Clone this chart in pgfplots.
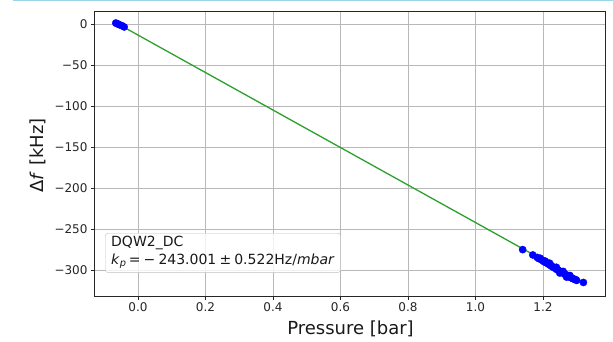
\documentclass[border=0pt]{standalone}
\usepackage{pgfplots}
\pgfplotsset{compat=1.18}
\usepackage{fontspec}
\setmainfont{DejaVu Sans}
\definecolor{fitgreen}{HTML}{2CA02C}
\definecolor{topblue}{HTML}{9AD6EA}
\definecolor{gridgray}{HTML}{B8B8B8}
\begin{document}
\begin{tikzpicture}[x=1pt,y=1pt]
\path[use as bounding box] (0,0) rectangle (613,341);
\draw[topblue, line width=1.6pt] (13,340.3) -- (613,340.3);
\begin{axis}[
  at={(94.5pt,45pt)}, anchor=south west,
  scale only axis, width=510.5pt, height=284.3pt,
  xmin=-0.129, xmax=1.384, ymin=-331, ymax=15.3,
  xtick={0,0.2,0.4,0.6,0.8,1.0,1.2},
  xticklabels={0.0,0.2,0.4,0.6,0.8,1.0,1.2},
  ytick={-300,-250,-200,-150,-100,-50,0},
  yticklabels={−300,−250,−200,−150,−100,−50,0},
  xtick pos=bottom, ytick pos=left,
  grid=major, major grid style={gridgray, line width=0.8pt},
  tick align=outside, major tick length=3.5pt,
  tick style={black!85, line width=0.8pt},
  axis line style={black!85, line width=0.8pt},
  ticklabel style={font=\fontsize{12}{14}\selectfont, text=black!85},
  xlabel={Pressure [bar]}, ylabel={Δ\textit{f} [kHz]},
  every axis x label/.style={at={(axis description cs:0.5015,-0.137)}, anchor=base,
     font=\fontsize{18}{21}\selectfont, text=black!90},
  every axis y label/.style={at={(axis description cs:-0.1003,0.494)}, anchor=base, rotate=90,
     font=\fontsize{18}{21}\selectfont, text=black!90},
]
\addplot[only marks, mark=*, mark size=3.6pt, color=blue, mark options={draw=blue, fill=blue}] coordinates {
(-0.066,1.5) (-0.062,0.8) (-0.058,0.0) (-0.054,-0.8) (-0.047,-1.8) (-0.041,-3.3)
(1.140,-274.5) (1.170,-281.0) (1.183,-284.0) (1.188,-285.5) (1.192,-285.0) (1.196,-287.0)
(1.200,-288.0) (1.204,-289.5) (1.207,-288.5) (1.210,-290.5) (1.214,-291.5) (1.218,-292.5)
(1.221,-293.5) (1.225,-294.0) (1.228,-295.5) (1.232,-296.0) (1.235,-297.0) (1.238,-297.5)
(1.242,-299.0) (1.245,-299.5) (1.248,-300.5) (1.252,-301.0) (1.255,-302.0) (1.258,-302.5)
(1.262,-303.5) (1.265,-304.5) (1.268,-305.0) (1.272,-306.0) (1.275,-306.5) (1.278,-307.5)
(1.282,-308.5) (1.285,-309.0) (1.289,-310.0) (1.293,-310.5) (1.297,-311.0) (1.300,-312.0)
(1.220,-291.0) (1.240,-296.0) (1.260,-301.0) (1.280,-306.0) (1.250,-303.0) (1.270,-308.0)
(1.320,-314.5)
};
\addplot[fitgreen, line width=1.3pt] coordinates {(-0.059,0.3) (1.320,-314.5)};
\node[draw=black!25, rounded corners=3pt, fill=white, fill opacity=0.8, text opacity=1,
      align=left, anchor=north west, inner xsep=6pt, inner ysep=3pt,
      font=\fontsize{14}{18}\selectfont, text=black!90]
  at (rel axis cs:0.0206,0.2216)
  {DQW2\_DC\\\textit{k}\textsubscript{\textit{p}}\,=\:−\:243.001\:±\:0.522Hz/\textit{mbar}\rule[-5pt]{0pt}{0pt}};
\end{axis}
\end{tikzpicture}
\end{document}
